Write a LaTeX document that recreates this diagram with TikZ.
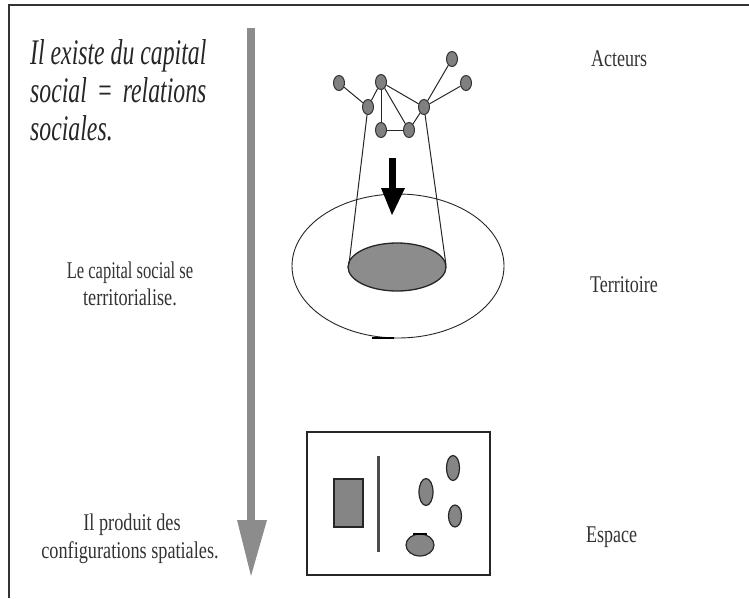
\documentclass[tikz,border=0pt]{standalone}
\usepackage{fontspec}
\usepackage{graphicx}
\usetikzlibrary{shapes.geometric}
\setmainfont{Liberation Serif}
\begin{document}
\begin{tikzpicture}[x=1pt,y=-1pt,
  net/.style={ellipse,draw=black!80,fill=black!50,line width=1pt,minimum width=11pt,minimum height=15pt,inner sep=0pt},
  link/.style={draw=black!85,line width=1pt},
  big/.style={font=\fontsize{36}{40}\selectfont\itshape,text=black!85,inner sep=0pt},
  mid/.style={font=\fontsize{24}{28}\selectfont,text=black!80,inner sep=0pt},
  lab/.style={font=\fontsize{24}{28}\selectfont,text=black!80,inner sep=0pt},
  blob/.style={draw=black!85,fill=black!48,line width=1.2pt}]
\useasboundingbox (0,0) rectangle (749,598);
% frame
\draw[black!80,line width=1.5pt] (9,598) -- (9,5) -- (749,5);
% big gray arrow
\fill[black!45] (247,28) rectangle (255,522);
\fill[black!45] (237,520) -- (267,520) -- (251,576) -- cycle;
% texts left
\node[big,anchor=base west] (t1) at (30,64) {\scalebox{0.66}[1]{Il existe du capital}};
\node[big,anchor=base west] (t2) at (30,102) {\scalebox{0.66}[1]{social \,=\, relations}};
\node[big,anchor=base west] (t3) at (30,140) {\scalebox{0.66}[1]{sociales.}};
\node[mid,anchor=base] (m1) at (130,278) {\scalebox{0.69}[1]{Le capital social se}};
\node[mid,anchor=base] (m2) at (130,305) {\scalebox{0.76}[1]{territorialise.}};
\node[mid,anchor=base] (b1) at (132,530) {\scalebox{0.76}[1]{Il produit des}};
\node[mid,anchor=base] (b2) at (130,558) {\scalebox{0.76}[1]{configurations spatiales.}};
% right labels
\node[lab,anchor=base west] (l1) at (591,66) {\scalebox{0.75}[1]{Acteurs}};
\node[lab,anchor=base west] (l2) at (590,292) {\scalebox{0.75}[1]{Territoire}};
\node[lab,anchor=base west] (l3) at (586,542) {\scalebox{0.75}[1]{Espace}};
% territory ellipses
\draw[black!85,line width=0.9pt] (398,266) ellipse [x radius=106, y radius=72];
\draw[black,line width=2pt] (372,338) -- (394,338);
\draw[black!85,line width=1.3pt,fill=black!45] (397,267) ellipse [x radius=49, y radius=24];
% network
\node[net] (n1) at (339,83) {};
\node[net] (n2) at (381,82) {};
\node[net] (n3) at (452,59) {};
\node[net] (n4) at (466,83) {};
\node[net] (n5) at (368,107) {};
\node[net] (n6) at (424,107) {};
\node[net] (n7) at (381,130) {};
\node[net] (n8) at (409,130) {};
\coordinate (cl) at (349,264);
\coordinate (cr) at (446,265);
\draw[link] (n1) -- (n5);
\draw[link] (n5) -- (n2);
\draw[link] (n2) -- (n7);
\draw[link] (n2) -- (n8);
\draw[link] (n2) -- (n6);
\draw[link] (n7) -- (n8);
\draw[link] (n8) -- (n6);
\draw[link] (n6) -- (n3);
\draw[link] (n6) -- (n4);
\draw[link] (n5) -- (cl);
\draw[link] (n6) -- (cr);
% black arrow
\fill[black] (389,158) rectangle (396,190);
\fill[black] (381,188) -- (405,188) -- (392,215) -- cycle;
% espace box
\draw[black!85,line width=1.3pt] (307,432) rectangle (490,575);
\draw[blob] (334,479) rectangle (363,527);
\draw[black!70,line width=3pt] (378,456) -- (378,552);
\draw[blob] (453,468) ellipse [x radius=6.5, y radius=12.5];
\draw[blob] (426,492) ellipse [x radius=7, y radius=13.5];
\draw[blob] (455,516) ellipse [x radius=6.5, y radius=11];
\draw[blob] (420,545) ellipse [x radius=14, y radius=11];
\draw[black,line width=2.5pt] (413,534) -- (427,534);
\end{tikzpicture}
\end{document}
